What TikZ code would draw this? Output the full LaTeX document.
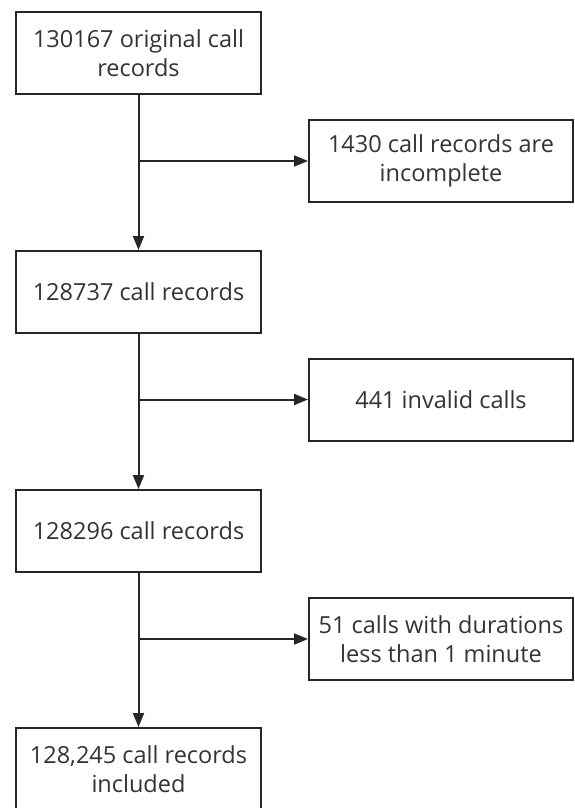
\documentclass[tikz,border=0pt]{standalone}
\usepackage{fontspec}
\setmainfont{Open Sans}
\usetikzlibrary{arrows.meta}

\begin{document}
\begin{tikzpicture}[x=1pt,y=-1pt,
  stage/.style={draw=black!85,line width=2pt,minimum width=245pt,minimum height=82pt,
    align=center,text=black!80,font=\fontsize{23.5}{29}\selectfont,inner sep=0pt},
  excl/.style={stage,minimum width=264pt},
  flow/.style={draw=black!85,line width=2pt,-{Triangle[length=14pt,width=11pt]}}]
\useasboundingbox (0,0) rectangle (575,808);
% main column
\node [stage] (rec0) at (138.5,53) {130167 original call\\records};
\node [stage] (rec1) at (138.5,292) {128737 call records};
\node [stage] (rec2) at (138.5,531) {128296 call records};
\node [stage] (rec3) at (138.5,769) {128,245 call records\\included};
% excluded
\node [excl] (out0) at (441,161) {1430 call records are\\incomplete};
\node [excl] (out1) at (441,399.5) {441 invalid calls};
\node [excl] (out2) at (441,639) {51 calls with durations\\less than 1 minute};
\coordinate (split0) at (rec0.south |- out0.west);
\coordinate (split1) at (rec1.south |- out1.west);
\coordinate (split2) at (rec2.south |- out2.west);
\draw [flow] (rec0) -- (rec1);
\draw [flow] (rec1) -- (rec2);
\draw [flow] (rec2) -- (rec3);
\draw [flow] (split0) -- (out0);
\draw [flow] (split1) -- (out1);
\draw [flow] (split2) -- (out2);
\end{tikzpicture}
\end{document}
